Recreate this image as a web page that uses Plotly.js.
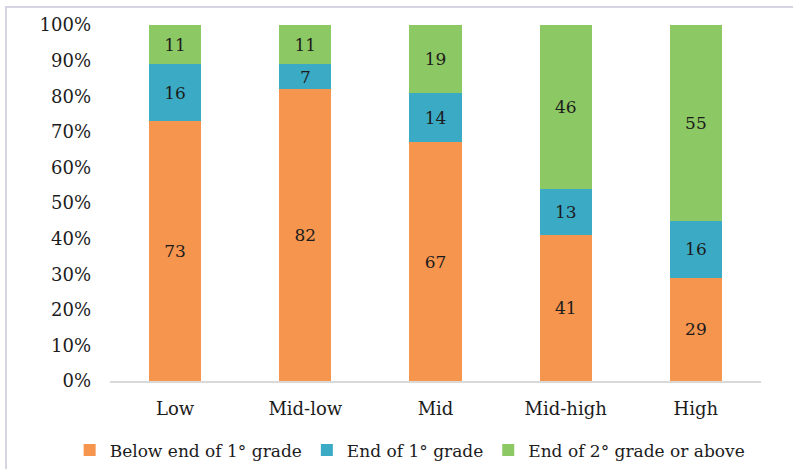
<!DOCTYPE html>
<html>
<head>
<meta charset="utf-8">
<script src="https://cdn.plot.ly/plotly-3.0.1.min.js"></script>
<style>
  html, body { margin: 0; padding: 0; background: #fff; }
  #frame { position: absolute; left: 5px; top: 6px; width: 788px; height: 463px;
           border-top: 2px solid #d6d3e2; border-left: 2px solid #d6d3e2; box-sizing: border-box; }
  #chart { position: absolute; left: 0; top: 0; width: 793px; height: 469px; }
</style>
</head>
<body>
<div id="frame"></div>
<div id="chart"></div>
<script>
// Income groups on the x axis
const categories = ['Low', 'Mid-low', 'Mid', 'Mid-high', 'High'];

// Share of pupils (%) at each reading level
const belowFirst = [73, 82, 67, 41, 29];
const endFirst = [16, 7, 14, 13, 16];
const endSecondPlus = [11, 11, 19, 46, 55];

const seriesNames = ['Below end of 1° grade', 'End of 1° grade', 'End of 2° grade or above'];
const seriesColors = ['#F6954E', '#3BAAC4', '#8CC863'];
const yTickValues = [0, 10, 20, 30, 40, 50, 60, 70, 80, 90, 100];
const yTickLabels = ['0%', '10%', '20%', '30%', '40%', '50%', '60%', '70%', '80%', '90%', '100%'];

const font = "'DejaVu Serif', 'Liberation Serif', serif";
const ink = '#1c1c1c';

const traces = [belowFirst, endFirst, endSecondPlus].map((vals, i) => ({
  type: 'bar',
  name: seriesNames[i],
  x: categories,
  y: vals,
  text: vals.map(String),
  texttemplate: '%{text}',
  textposition: 'inside',
  insidetextanchor: 'middle',
  constraintext: 'none',
  textangle: 0,
  textfont: { family: font, size: 17, color: ink },
  marker: { color: seriesColors[i], line: { width: 0 } },
  hoverinfo: 'skip'
}));

const layout = {
  width: 793,
  height: 469,
  paper_bgcolor: 'rgba(0,0,0,0)',
  plot_bgcolor: 'rgba(0,0,0,0)',
  barmode: 'stack',
  bargap: 0.6,
  margin: { l: 110, r: 32, t: 25, b: 88, autoexpand: false },
  font: { family: font, size: 18, color: ink },
  showlegend: true,
  legend: {
    orientation: 'h',
    xref: 'paper', yref: 'paper',
    x: -0.062, xanchor: 'left',
    y: -0.195, yanchor: 'middle',
    font: { family: font, size: 17, color: ink },
    itemwidth: 30,
    traceorder: 'normal'
  },
  xaxis: {
    showline: true, linecolor: '#d9d9d9', linewidth: 2,
    ticks: '', showgrid: false, zeroline: false,
    ticklabelstandoff: 10,
    tickfont: { family: font, size: 18, color: ink },
    fixedrange: true
  },
  yaxis: {
    range: [0, 100],
    tickvals: yTickValues,
    ticktext: yTickLabels,
    showgrid: false, zeroline: false, showline: false,
    ticks: '', ticklen: 0,
    ticklabelstandoff: 18,
    tickfont: { family: font, size: 18, color: ink },
    fixedrange: true
  }
};

Plotly.newPlot('chart', traces, layout, { displayModeBar: false, staticPlot: true });
</script>
</body>
</html>
